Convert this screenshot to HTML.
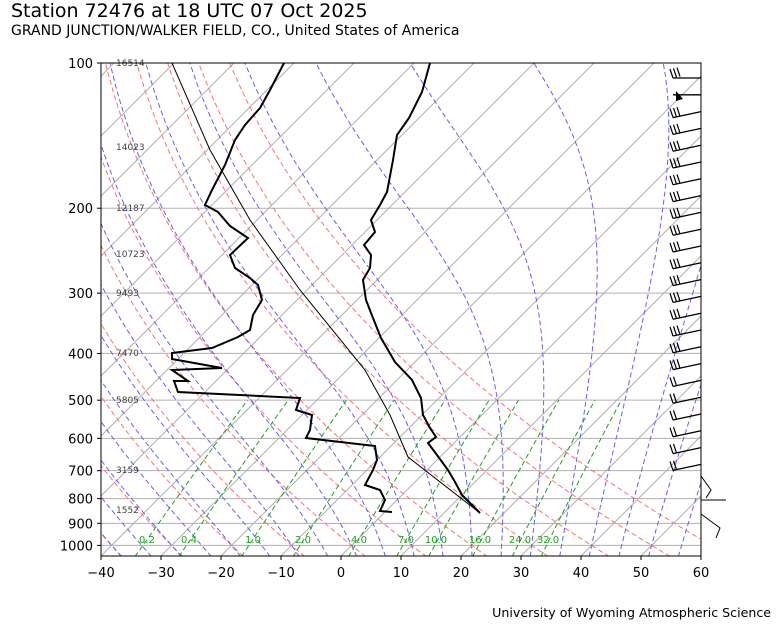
<!DOCTYPE html>
<html><head><meta charset="utf-8"><style>
body{margin:0;background:#fff;width:780px;height:630px;overflow:hidden}
svg{font-family:"DejaVu Sans","Liberation Sans",sans-serif}
</style></head><body>
<svg id="s" width="780" height="630" xmlns="http://www.w3.org/2000/svg">
<defs><clipPath id="c"><rect x="101" y="63" width="600" height="493"/></clipPath></defs>
<text x="11" y="17" font-size="19">Station 72476 at 18 UTC 07 Oct 2025</text>
<text x="11" y="35" font-size="14">GRAND JUNCTION/WALKER FIELD, CO., United States of America</text>
<text x="771" y="617" font-size="12.6" text-anchor="end">University of Wyoming Atmospheric Science</text>
<g id="g" clip-path="url(#c)"></g>
<g id="o"></g>
</svg>
<script>
var NS="http://www.w3.org/2000/svg";
function Y(p){return 63+209.5*Math.log(p/100);}
function X(T,p){return 101+(T+40)*6+(556-Y(p));}
var g=document.getElementById('g'),o=document.getElementById('o');
function el(par,n,a,t){var e=document.createElementNS(NS,n);for(var k in a)e.setAttribute(k,a[k]);if(t!=null)e.textContent=t;par.appendChild(e);return e;}
function path(par,pts,st){var d='';pts.forEach(function(q,i){d+=(i?'L':'M')+q[0].toFixed(1)+' '+q[1].toFixed(1);});st.d=d;st.fill='none';return el(par,'path',st);}
[100,200,300,400,500,600,700,800,900,1000].forEach(function(p){el(g,'line',{x1:101,x2:701,y1:Y(p),y2:Y(p),stroke:'#b0b0b0','stroke-width':1});});
for(var T=-160;T<=60;T+=10){path(g,[[X(T,1055),Y(1055)],[X(T,100),Y(100)]],{stroke:'#b0b0b0','stroke-width':1});}
for(var t0=-50;t0<=60;t0+=10){var th=t0+273.15,pts=[];for(var p=1055;p>=100;p-=10){var T=th*Math.pow(p/1000,0.286)-273.15;pts.push([X(T,p),Y(p)]);}pts.push([X(th*Math.pow(0.1,0.286)-273.15,100),Y(100)]);path(g,pts,{stroke:'#ff7070','stroke-width':1,'stroke-dasharray':'5,3'});}
function es(T){return 6.112*Math.exp(17.67*T/(T+243.5));}
function dTdp(T,p){var Tk=T+273.15,rs=0.622*es(T)/(p-es(T)),Rd=287,Lv=2.501e6,cp=1005;return (1/p)*(Rd*Tk+Lv*rs)/(cp+Lv*Lv*rs*0.622/(Rd*Tk*Tk));}
var m0=[];for(var a=-40;a<=55;a+=5)m0.push(a);
m0.forEach(function(t){var T=t,p;var dn=[];var T2=t;for(var q=1000;q<=1055;q+=5){dn.push([X(T2,q),Y(q)]);T2+=dTdp(T2,q)*5;}
var pts=dn.reverse();for(p=1000;p>100;p-=5){pts.push([X(T,p),Y(p)]);T-=dTdp(T,p)*5;}pts.push([X(T,100),Y(100)]);path(g,pts,{stroke:'#6060ff','stroke-width':1,'stroke-dasharray':'5,3'});});
[[0.2,147],[0.4,189],[1,253],[2,303],[4,359],[7,406],[10,436],[16,480],[24,520],[32,548]].forEach(function(w){var pts=[];for(var p=1055;p>=500;p-=15){var e=w[0]*p/(622+w[0]),l=Math.log(e/6.112),Td=243.5*l/(17.67-l);pts.push([X(Td,p),Y(p)]);}path(g,pts,{stroke:'#20a020','stroke-width':1,'stroke-dasharray':'5,3'});
el(o,'text',{x:w[1],y:543,'font-size':10,fill:'#20a020','text-anchor':'middle'},w[0].toFixed(1));});
path(g,[[480,513],[408,457],[390,415],[365,370],[300,290],[250,220],[210,150],[172,63]],{stroke:'#000','stroke-width':1});
path(g,[[480,513],[462,495],[455,482],[448,470],[437,455],[428,443],[436,437],[430,428],[423,415],[421,398],[412,380],[395,362],[381,338],[373,318],[366,300],[363,280],[370,268],[371,255],[364,245],[375,232],[371,220],[380,205],[387,192],[393,160],[397,135],[409,118],[422,92],[430,63]],{stroke:'#000','stroke-width':2});
path(g,[[392,512],[380,511],[385,500],[380,490],[365,485],[373,470],[377,460],[375,446],[306,438],[310,430],[312,415],[296,410],[300,398],[178,392],[174,381],[188,381],[172,370],[222,368],[172,359],[172,353],[212,348],[238,337],[250,330],[253,315],[262,300],[258,285],[250,278],[235,268],[230,255],[248,238],[230,226],[218,212],[205,205],[212,190],[225,165],[235,140],[245,125],[260,108],[270,90],[284,63]],{stroke:'#000','stroke-width':2});
[[16514,63],[14023,147],[12187,208],[10723,254],[9493,293],[7470,353],[5805,400],[3159,470],[1552,510]].forEach(function(h){el(o,'text',{x:116,y:h[1]+3,'font-size':9,fill:'#444'},h[0]);});
el(o,'rect',{x:101,y:63,width:600,height:493,fill:'none',stroke:'#000','stroke-width':1});
for(var t=-40;t<=60;t+=10){var x=101+(t+40)*6;el(o,'line',{x1:x,x2:x,y1:556,y2:560,stroke:'#000'});el(o,'text',{x:x,y:577,'font-size':13,'text-anchor':'middle'},t<0?'−'+(-t):t);}
[100,200,300,400,500,600,700,800,900,1000].forEach(function(p){el(o,'line',{x1:97,x2:101,y1:Y(p),y2:Y(p),stroke:'#000'});el(o,'text',{x:93,y:Y(p)+5,'font-size':13,'text-anchor':'end'},p);});
for(var i=0;i<24;i++){var yb=78+i*16.8;var n=i==1?0:(i<18?3:2);var dy=i<2?0:6;el(o,'line',{x1:701,y1:yb,x2:673,y2:yb+dy,stroke:'#000','stroke-width':1.3});
if(i==1){el(o,'polygon',{points:'676,91 676,101 683,99',fill:'#000'});}
for(var k=0;k<n;k++){var bx=673+k*3.5,by=yb+dy-k*0.7;el(o,'line',{x1:bx,y1:by,x2:bx-3,y2:by-9,stroke:'#000','stroke-width':1.2});}}
path(o,[[701,476],[711,490],[706,498]],{stroke:'#000','stroke-width':1});
el(o,'line',{x1:701,y1:500,x2:726,y2:500,stroke:'#000'});
path(o,[[701,514],[720,528],[716,538]],{stroke:'#000','stroke-width':1});
</script>
</body></html>
